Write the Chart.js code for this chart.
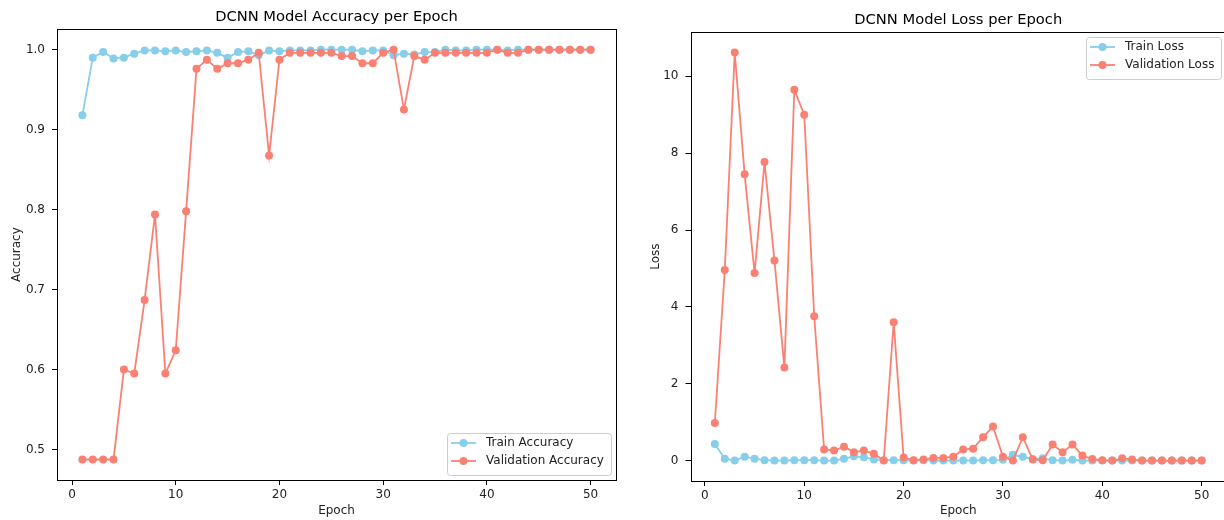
<!DOCTYPE html>
<html>
<head>
<meta charset="utf-8">
<script src="https://cdn.jsdelivr.net/npm/chart.js@4.4.0/dist/chart.umd.min.js"></script>
<style>
body { margin: 0; background: #fff; }
#wrap { position: relative; width: 1224px; height: 520px; overflow: hidden; }
#accChart { position: absolute; left: 0; top: 0; }
#lossChart { position: absolute; left: 620px; top: 0; }
</style>
</head>
<body>
<div id="wrap">
<canvas id="accChart" width="620" height="520"></canvas>
<canvas id="lossChart" width="610" height="520"></canvas>
</div>
<script>
var epochs = [1,2,3,4,5,6,7,8,9,10,11,12,13,14,15,16,17,18,19,20,21,22,23,24,25,
              26,27,28,29,30,31,32,33,34,35,36,37,38,39,40,41,42,43,44,45,46,47,48,49,50];

var trainAcc = [0.918,0.990,0.997,0.989,0.990,0.995,0.999,0.999,0.998,0.999,
                0.997,0.998,0.999,0.996,0.990,0.997,0.998,0.993,0.999,0.998,
                0.999,0.999,0.999,1.000,1.000,1.000,1.000,0.998,0.999,0.999,
                0.993,0.995,0.994,0.997,0.997,1.000,0.999,0.999,1.000,1.000,
                1.000,0.999,1.000,1.000,1.000,1.000,1.000,1.000,1.000,1.000];

var valAcc = [0.4875,0.4875,0.4875,0.4875,0.600,0.595,0.687,0.794,0.595,0.624,
              0.798,0.976,0.9875,0.976,0.983,0.983,0.9875,0.996,0.8675,0.9875,
              0.996,0.996,0.996,0.996,0.996,0.992,0.992,0.983,0.983,0.996,
              1.000,0.925,0.992,0.9875,0.996,0.996,0.996,0.996,0.996,0.996,
              1.000,0.996,0.996,1.000,1.000,1.000,1.000,1.000,1.000,1.000];

var trainLoss = [0.43,0.05,0.00,0.10,0.05,0.01,0.00,0.00,0.01,0.01,
                 0.01,0.00,0.00,0.05,0.11,0.09,0.03,0.01,0.01,0.01,
                 0.00,0.01,0.00,0.00,0.00,0.00,0.00,0.01,0.01,0.02,
                 0.15,0.10,0.04,0.06,0.01,0.00,0.02,0.00,0.00,0.00,
                 0.00,0.00,0.00,0.00,0.00,0.00,0.00,0.00,0.00,0.00];

var valLoss = [0.98,4.96,10.62,7.45,4.88,7.77,5.21,2.42,9.65,9.00,
               3.76,0.29,0.26,0.36,0.22,0.26,0.18,0.00,3.60,0.08,
               0.01,0.03,0.07,0.07,0.10,0.29,0.31,0.61,0.89,0.10,
               0.00,0.61,0.03,0.01,0.42,0.22,0.42,0.13,0.04,0.01,
               0.00,0.06,0.03,0.00,0.00,0.00,0.00,0.00,0.00,0.00];

var xTicks = [0,10,20,30,40,50];
var accTicks = [0.5,0.6,0.7,0.8,0.9,1.0];
var lossTicks = [0,2,4,6,8,10];

var FONT = '"DejaVu Sans", sans-serif';
var BLUE = '#87CEEB';
var SALMON = '#FA8072';

function points(ys){
    return epochs.map(function(e, i){ return {x: e, y: ys[i]}; });
}

// matplotlib style 5% margins
function padRange(arrs){
    var all = [].concat.apply([], arrs);
    var lo = Math.min.apply(null, all), hi = Math.max.apply(null, all);
    var m = (hi - lo) * 0.05;
    return [lo - m, hi + m];
}

// full box frame + legend box inside the axes
var frameLegend = {
    id: 'frameLegend',
    afterDraw: function(chart, args, opts){
        var ctx = chart.ctx, a = chart.chartArea;
        ctx.save();
        ctx.strokeStyle = '#000';
        ctx.lineWidth = 1;
        ctx.strokeRect(Math.round(a.left) + 0.5, Math.round(a.top) + 0.5,
                       Math.round(a.right - a.left), Math.round(a.bottom - a.top));

        ctx.font = '12px ' + FONT;
        var textW = 0;
        chart.data.datasets.forEach(function(ds){
            textW = Math.max(textW, ctx.measureText(ds.label).width);
        });
        var w = Math.round(4 + 25 + 10 + textW + 7);
        var h = 42;
        var x = Math.round(a.right - opts.pad - w);
        var y = opts.corner == 'lower right' ? Math.round(a.bottom - opts.pad - h) : Math.round(a.top + opts.pad);

        ctx.fillStyle = 'rgba(255,255,255,0.8)';
        ctx.strokeStyle = '#cccccc';
        ctx.beginPath();
        ctx.roundRect(x + 0.5, y + 0.5, w, h, 3);
        ctx.fill();
        ctx.stroke();

        chart.data.datasets.forEach(function(ds, i){
            var cy = y + 10 + i * 18;
            ctx.strokeStyle = ds.borderColor;
            ctx.lineWidth = 1.8;
            ctx.beginPath();
            ctx.moveTo(x + 4, cy);
            ctx.lineTo(x + 29, cy);
            ctx.stroke();
            ctx.fillStyle = ds.borderColor;
            ctx.beginPath();
            ctx.arc(x + 16.5, cy, 4, 0, Math.PI * 2);
            ctx.fill();
            ctx.fillStyle = '#222';
            ctx.textBaseline = 'middle';
            ctx.textAlign = 'left';
            ctx.fillText(ds.label, x + 39, cy);
        });
        ctx.restore();
    }
};

function series(label, ys, color, order){
    return {
        label: label,
        data: points(ys),
        borderColor: color,
        backgroundColor: color,
        borderWidth: 1.8,
        pointRadius: 4,
        pointHoverRadius: 4,
        pointBorderWidth: 0,
        pointBackgroundColor: color,
        tension: 0,
        order: order
    };
}

function makeChart(id, cfg){
    var yr = padRange(cfg.ranges);
    return new Chart(document.getElementById(id).getContext('2d'), {
        type: 'line',
        data: { datasets: cfg.datasets },
        plugins: [frameLegend],
        options: {
            responsive: false,
            animation: false,
            devicePixelRatio: 1,
            layout: { padding: { left: 0, right: cfg.padRight, top: 0, bottom: 0 } },
            plugins: {
                legend: { display: false },
                tooltip: { enabled: false },
                title: {
                    display: true,
                    text: cfg.title,
                    fullSize: false,
                    color: '#000',
                    font: { family: FONT, size: 14.7, weight: 'normal' },
                    padding: cfg.titlePad
                },
                frameLegend: { corner: cfg.corner, pad: cfg.legendPad }
            },
            scales: {
                x: {
                    type: 'linear',
                    min: -1.45,
                    max: 52.45,
                    afterBuildTicks: function(scale){
                        scale.ticks = xTicks.map(function(v){ return {value: v}; });
                    },
                    afterFit: function(scale){ scale.height = cfg.xHeight; },
                    grid: { drawOnChartArea: false, drawTicks: true, tickLength: 5, tickColor: '#000' },
                    border: { display: false },
                    ticks: { color: '#222', padding: 3, font: { family: FONT, size: 12 }, maxRotation: 0 },
                    title: { display: true, text: 'Epoch', color: '#222',
                             font: { family: FONT, size: 12 }, padding: { top: 0, bottom: 2 } }
                },
                y: {
                    type: 'linear',
                    min: yr[0],
                    max: yr[1],
                    afterBuildTicks: function(scale){
                        scale.ticks = cfg.yTicks.map(function(v){ return {value: v}; });
                    },
                    afterFit: function(scale){ scale.width = cfg.yWidth; },
                    grid: { drawOnChartArea: false, drawTicks: true, tickLength: 5, tickColor: '#000' },
                    border: { display: false },
                    ticks: { color: '#222', padding: 7, font: { family: FONT, size: 12 },
                             callback: cfg.yFormat },
                    title: { display: true, text: cfg.yLabel, color: '#222',
                             font: { family: FONT, size: 12 }, padding: { top: cfg.yTitlePad, bottom: 0 } }
                }
            }
        }
    });
}

var accChart = makeChart('accChart', {
    title: 'DCNN Model Accuracy per Epoch',
    yLabel: 'Accuracy',
    datasets: [series('Train Accuracy', trainAcc, BLUE, 1),
               series('Validation Accuracy', valAcc, SALMON, 0)],
    ranges: [trainAcc, valAcc],
    yTicks: accTicks,
    yFormat: function(v){ return v.toFixed(1); },
    yWidth: 57,
    yTitlePad: 10,
    xHeight: 40,
    padRight: 1.5,
    titlePad: { top: 8, bottom: 3.5 },
    corner: 'lower right',
    legendPad: 5
});

var lossChart = makeChart('lossChart', {
    title: 'DCNN Model Loss per Epoch',
    yLabel: 'Loss',
    datasets: [series('Train Loss', trainLoss, BLUE, 1),
               series('Validation Loss', valLoss, SALMON, 0)],
    ranges: [trainLoss, valLoss],
    yTicks: lossTicks,
    yFormat: function(v){ return String(v); },
    yWidth: 70.5,
    yTitlePad: 29,
    xHeight: 39,
    padRight: 4,
    titlePad: { top: 11, bottom: 3.5 },
    corner: 'upper right',
    legendPad: 5
});
</script>
</body>
</html>
